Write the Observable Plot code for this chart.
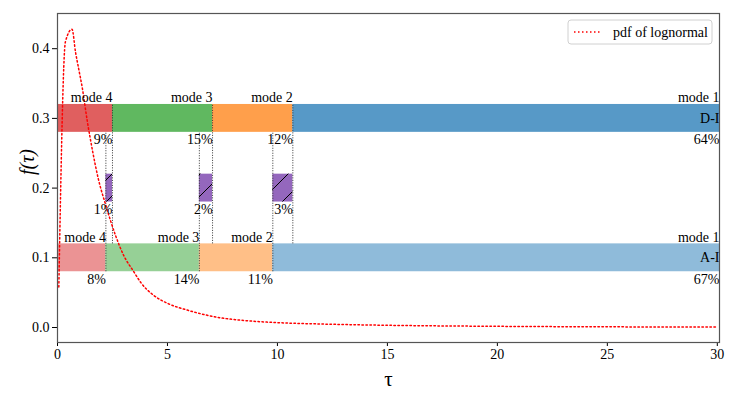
<!DOCTYPE html>
<html><head><meta charset="utf-8">
<script src="https://cdn.jsdelivr.net/npm/d3@7"></script>
<script src="https://cdn.jsdelivr.net/npm/@observablehq/plot@0.6"></script>
<style>body{margin:0;background:#fff}</style>
</head><body><div id="chart"></div>
<script>
// ---- data ----
const modes = ["mode 4", "mode 3", "mode 2", "mode 1"];
const rows = ["D-I", "A-I"];
const rowY = [0.3, 0.1];
const gapY = 0.2;
const diEdges = [0, 2.5, 7.05, 10.7, 30.1];
const aiEdges = [0, 2.2, 6.45, 9.79, 30.1];
const diPct = ["9%", "15%", "12%", "64%"];
const aiPct = ["8%", "14%", "11%", "67%"];
const gapPct = ["1%", "2%", "3%"];
const tau = [0.06, 0.36, 0.66, 0.82, 0.97, 1.12, 1.35, 1.62, 1.85, 2.18, 2.64, 3.0, 3.47, 3.8, 4.38, 5.05, 5.9, 6.65, 7.41, 8.17, 9.08, 10, 12, 15, 20, 25, 30];
const pdf = [0.058, 0.41, 0.428, 0.395, 0.37, 0.345, 0.297, 0.249, 0.214, 0.177, 0.132, 0.104, 0.08, 0.064, 0.046, 0.034, 0.025, 0.0187, 0.0139, 0.011, 0.0086, 0.007, 0.005, 0.0032, 0.0017, 0.001, 0.0006];
const xTicks = [0, 5, 10, 15, 20, 25, 30];
const yTicks = [0, 0.1, 0.2, 0.3, 0.4];
const diColors = ["#e05f5f", "#60b860", "#ff9f4b", "#5799c7"];
const aiColors = ["#eb9394", "#96d096", "#ffbf87", "#8fbbda"];
const gapColor = "#9467bd";
const half = 0.02;

// ---- derived tables ----
const segs = [];
[[diEdges, diPct, diColors, rowY[0]], [aiEdges, aiPct, aiColors, rowY[1]]].forEach(([e, p, c, y]) => {
  for (let i = 0; i < 4; i++) segs.push({x1: e[i], x2: e[i + 1], y1: y - half, y2: y + half, mode: modes[i], pct: p[i], fill: c[i]});
});
const gaps = gapPct.map((p, i) => ({x1: aiEdges[i + 1], x2: diEdges[i + 1], y1: gapY - half, y2: gapY + half, pct: p}));
const vlines = [
  ...diEdges.slice(1, 4).map(x => ({x, y1: rowY[1] + half, y2: rowY[0] + half})),
  ...aiEdges.slice(1, 4).map(x => ({x, y1: rowY[1] - half, y2: rowY[0] - half}))
];
const curve = tau.map((t, i) => ({t, f: pdf[i]}));
const labels = rows.map((r, i) => ({r, y: rowY[i], x: diEdges[4]}));

function hatch(index, scales) {
  const g = d3.create("svg:g");
  const pat = g.append("defs").append("pattern").attr("id", "hatchP")
    .attr("patternUnits", "userSpaceOnUse").attr("width", 22).attr("height", 22);
  pat.append("path").attr("d", "M0,22L22,0M-5.5,5.5L5.5,-5.5M16.5,27.5L27.5,16.5")
    .attr("stroke", "#000").attr("stroke-width", 1);
  g.selectAll("rect.h").data(gaps).join("rect")
    .attr("x", d => scales.x(d.x1)).attr("width", d => scales.x(d.x2) - scales.x(d.x1))
    .attr("y", d => scales.y(d.y2)).attr("height", d => scales.y(d.y1) - scales.y(d.y2))
    .attr("fill", "url(#hatchP)");
  return g.node();
}
function legend(index, scales, values, dims) {
  const g = d3.create("svg:g");
  const x0 = dims.width - dims.marginRight - 151, y0 = dims.marginTop + 7;
  g.append("rect").attr("x", x0).attr("y", y0).attr("width", 144).attr("height", 24).attr("rx", 3)
    .attr("fill", "#fff").attr("fill-opacity", 0.8).attr("stroke", "#d0d0d0");
  g.append("line").attr("x1", x0 + 6).attr("x2", x0 + 32).attr("y1", y0 + 12).attr("y2", y0 + 12)
    .attr("stroke", "red").attr("stroke-width", 1.5).attr("stroke-dasharray", "1.5,2.5");
  g.append("text").attr("x", x0 + 45).attr("y", y0 + 12).attr("dy", "0.35em")
    .attr("text-anchor", "start").attr("fill", "#000").text("pdf of lognormal");
  return g.node();
}

const chart = Plot.plot({
  width: 756, height: 393,
  marginLeft: 57, marginRight: 37, marginTop: 13, marginBottom: 51,
  style: {fontFamily: "'Liberation Serif','Times New Roman',serif", fontSize: "14px", color: "#000", background: "#fff"},
  x: {domain: [0, 30.1], ticks: xTicks, label: null, tickSize: 4, tickPadding: 3},
  y: {domain: [-0.0215, 0.4505], ticks: yTicks, tickFormat: d3.format(".1f"), label: null, tickSize: 5, tickPadding: 3},
  marks: [
    Plot.rect(segs, {x1: "x1", x2: "x2", y1: "y1", y2: "y2", fill: "fill"}),
    Plot.rect(gaps, {x1: "x1", x2: "x2", y1: "y1", y2: "y2", fill: gapColor}),
    hatch,
    Plot.ruleX(vlines, {x: "x", y1: "y1", y2: "y2", stroke: "#333", strokeWidth: 1, strokeDasharray: "1,1.5"}),
    Plot.line(curve, {x: "t", y: "f", stroke: "red", strokeWidth: 1.5, strokeDasharray: "1.5,2.5", curve: "monotone-x"}),
    Plot.text(segs, {x: "x2", y: "y2", text: "mode", textAnchor: "end", lineAnchor: "bottom", dy: -2, fill: "#000"}),
    Plot.text(segs, {x: "x2", y: "y1", text: "pct", textAnchor: "end", lineAnchor: "top", dy: 2, fill: "#000"}),
    Plot.text(gaps, {x: "x2", y: "y1", text: "pct", textAnchor: "end", lineAnchor: "top", dy: 2, fill: "#000"}),
    Plot.text(labels, {x: "x", y: "y", text: "r", textAnchor: "end", fill: "#000"}),
    Plot.frame({stroke: "#555", strokeWidth: 1.2}),
    Plot.text(["τ"], {frameAnchor: "bottom", dy: 43, text: d => d, fontSize: 21, fill: "#000"}),
    Plot.text(["f(τ)"], {frameAnchor: "left", dx: -30, dy: -3, rotate: -90, text: d => d, fontSize: 20, fontStyle: "italic", fill: "#000"}),
    legend
  ]
});
document.getElementById("chart").appendChild(chart);
</script>
</body></html>
